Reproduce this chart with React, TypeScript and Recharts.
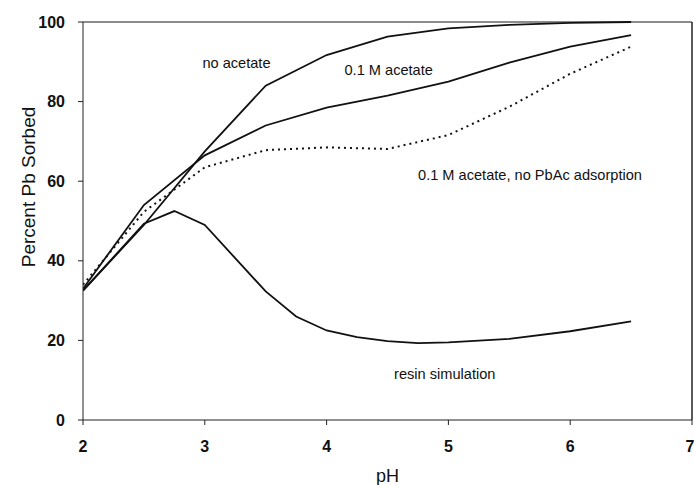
import React from "react";
import {
  LineChart,
  Line,
  XAxis,
  YAxis,
  ReferenceLine,
  ReferenceDot,
} from "recharts";

// pH grid + percent sorbed
const phMain = [2, 2.5, 3, 3.5, 4, 4.5, 5, 5.5, 6, 6.5];
const noAcetate = [32.5, 49, 67.5, 84, 91.7, 96.3, 98.4, 99.3, 99.8, 100];
const acetate = [33, 54, 66.5, 74, 78.5, 81.5, 85, 89.8, 93.8, 96.7];
const acetateNoPbAc = [34, 52.3, 63.5, 67.8, 68.5, 68.1, 71.6, 78.7, 87, 93.8];

const phResin = [2, 2.5, 2.75, 3, 3.5, 3.75, 4, 4.25, 4.5, 4.75, 5, 5.5, 6, 6.5];
const resin = [32.5, 49.3, 52.5, 49, 32.3, 26, 22.5, 20.8, 19.8, 19.3, 19.5, 20.4, 22.3, 24.8];

const xTicks = [2, 3, 4, 5, 6, 7];
const yTicks = [0, 20, 40, 60, 80, 100];

// curve annotations: [pH, percent, text]
const notes: [number, number, string][] = [
  [3.26, 89.7, "no acetate"],
  [4.51, 88, "0.1 M acetate"],
  [5.67, 61.6, "0.1 M acetate, no PbAc adsorption"],
  [4.97, 11.7, "resin simulation"],
];

const toPoints = (xs: number[], ys: number[]) =>
  xs.map((ph, i) => ({ ph, v: ys[i] }));

const FONT = "'Liberation Sans', Arial, sans-serif";

export default function App() {
  const tickStyle = { fontSize: 16, fill: "#111", fontWeight: 700, fontFamily: FONT };

  return (
    <div style={{ position: "absolute", left: 0, top: 0, background: "#fff" }}>
      <LineChart
        width={694}
        height={485}
        margin={{ top: 22, right: 2, left: 0, bottom: 5 }}
      >
        <XAxis
          type="number"
          dataKey="ph"
          domain={[2, 7]}
          ticks={xTicks}
          allowDataOverflow
          stroke="#222"
          tickSize={5}
          tickMargin={16}
          height={60}
          tick={tickStyle}
          label={{
            value: "pH",
            position: "insideBottom",
            offset: -2,
            style: { fontSize: 18, fill: "#111", fontFamily: FONT },
          }}
        />
        <YAxis
          type="number"
          domain={[0, 100]}
          ticks={yTicks}
          stroke="#222"
          width={83}
          tickSize={5}
          tickMargin={13}
          tick={tickStyle}
          label={{
            value: "Percent Pb Sorbed",
            angle: -90,
            position: "center",
            dx: -13,
            dy: -34,
            style: { fontSize: 19, fill: "#111", fontFamily: FONT, textAnchor: "middle" },
          }}
        />
        <ReferenceLine y={100} stroke="#666" strokeWidth={1.5} />
        <ReferenceLine x={7} stroke="#222" strokeWidth={1.5} />

        <Line
          data={toPoints(phMain, noAcetate)}
          dataKey="v"
          type="linear"
          stroke="#111"
          strokeWidth={1.8}
          dot={false}
          isAnimationActive={false}
        />
        <Line
          data={toPoints(phMain, acetate)}
          dataKey="v"
          type="linear"
          stroke="#111"
          strokeWidth={1.8}
          dot={false}
          isAnimationActive={false}
        />
        <Line
          data={toPoints(phMain, acetateNoPbAc)}
          dataKey="v"
          type="linear"
          stroke="#111"
          strokeWidth={2}
          strokeDasharray="2 4"
          dot={false}
          isAnimationActive={false}
        />
        <Line
          data={toPoints(phResin, resin)}
          dataKey="v"
          type="linear"
          stroke="#111"
          strokeWidth={1.8}
          dot={false}
          isAnimationActive={false}
        />

        {notes.map(([x, y, text]) => (
          <ReferenceDot
            key={text}
            x={x}
            y={y}
            r={0}
            fill="none"
            stroke="none"
            label={{
              value: text,
              position: "center",
              style: { fontSize: 14.6, fill: "#111", fontFamily: FONT },
            }}
          />
        ))}
      </LineChart>
    </div>
  );
}
